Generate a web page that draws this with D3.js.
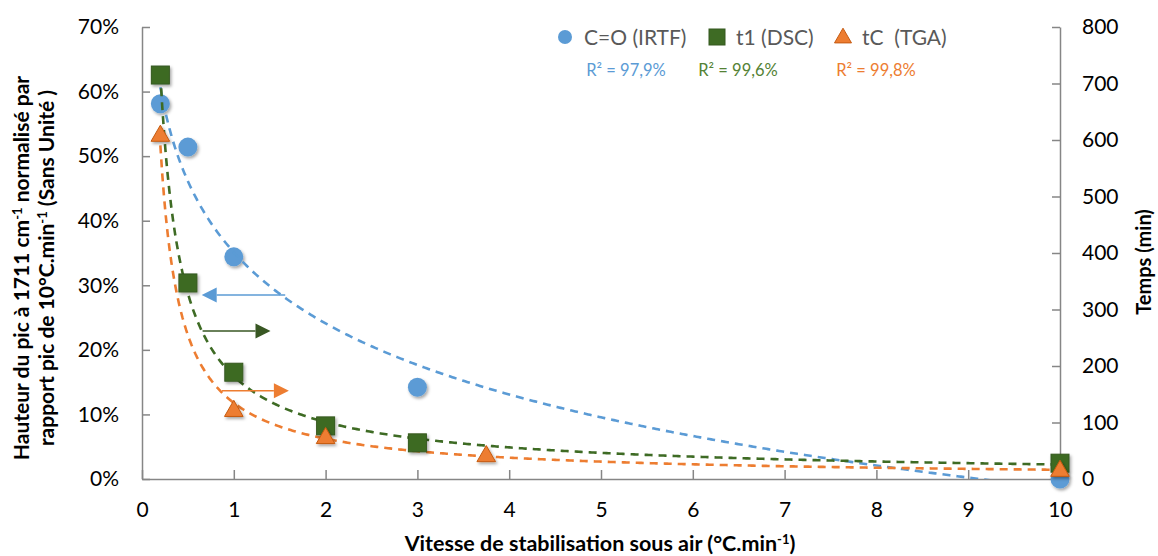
<!DOCTYPE html>
<meta charset="utf-8">
<script src="https://d3js.org/d3.v7.min.js"></script>
<style>
  body { margin: 0; background: #fff; }
  text { font-family: Lato, "Open Sans", sans-serif; }
</style>
<div id="chart"></div>
<script>
// ---- data ----
var xTicks = [0, 1, 2, 3, 4, 5, 6, 7, 8, 9, 10];
var leftTicks = [0, 0.1, 0.2, 0.3, 0.4, 0.5, 0.6, 0.7];
var rightTicks = [0, 100, 200, 300, 400, 500, 600, 700, 800];

// C=O (IRTF), left axis (fraction)
var irtfX = [0.2, 0.5, 1, 3, 10];
var irtfY = [0.581, 0.514, 0.344, 0.142, 0.0];
// t1 (DSC), right axis (min)
var dscX = [0.2, 0.5, 1, 2, 3, 10];
var dscY = [715, 347, 189, 94, 64, 28];
// tC (TGA), right axis (min)
var tgaX = [0.2, 1, 2, 3.75, 10];
var tgaY = [609, 122, 74, 42, 16];

var legendNames = ["C=O (IRTF)", "t1 (DSC)", "tC\u00a0 (TGA)"];
var r2Labels = ["R\u00b2 = 97,9%", "R\u00b2 = 99,6%", "R\u00b2 = 99,8%"];

// arrows telling which axis each series uses: [x0, x1, value, axis]
var arrows = [
  {x0: 1.56, x1: 0.65, v: 0.285, axis: "left", color: "#5b9bd5"},
  {x0: 0.66, x1: 1.40, v: 262, axis: "right", color: "#385723"},
  {x0: 0.87, x1: 1.60, v: 156, axis: "right", color: "#ed7d31"}
];

var blue = "#5b9bd5", green = "#3e6b24", orange = "#ed7d31";

// ---- layout ----
var W = 1158, H = 556;
var margin = {left: 142, right: 98, top: 27, bottom: 77};
var width = W - margin.left - margin.right,
    height = H - margin.top - margin.bottom;

var svg = d3.select("#chart").append("svg")
  .attr("width", W).attr("height", H);

var defs = svg.append("defs");
var f = defs.append("filter").attr("id", "shadow")
  .attr("x", "-50%").attr("y", "-50%").attr("width", "200%").attr("height", "200%");
f.append("feDropShadow").attr("dx", 1.5).attr("dy", 2).attr("stdDeviation", 1.8)
  .attr("flood-color", "#000").attr("flood-opacity", 0.35);
defs.append("clipPath").attr("id", "plotclip").append("rect")
  .attr("x", 0).attr("y", -5).attr("width", width + 2).attr("height", height + 5);

var g = svg.append("g").attr("transform", "translate(" + margin.left + "," + margin.top + ")");

var x = d3.scaleLinear().domain([0, 10]).range([0, width]);
var yL = d3.scaleLinear().domain([0, 0.7]).range([height, 0]);
var yR = d3.scaleLinear().domain([0, 800]).range([height, 0]);

var axisColor = "#868686";

function styleAxis(sel) {
  sel.select(".domain").attr("stroke", axisColor).attr("stroke-width", 1.5);
  sel.selectAll(".tick line").attr("stroke", axisColor).attr("stroke-width", 1.5);
  sel.selectAll(".tick text").attr("fill", "#000").style("font-size", "21px");
}

g.append("g").attr("transform", "translate(0," + height + ")")
  .call(d3.axisBottom(x).tickValues(xTicks).tickSize(-9).tickSizeOuter(0).tickPadding(23))
  .call(styleAxis);
g.append("g")
  .call(d3.axisLeft(yL).tickValues(leftTicks).tickFormat(d3.format(".0%")).tickSize(-8).tickSizeOuter(0).tickPadding(23))
  .call(styleAxis);
g.append("g").attr("transform", "translate(" + width + ",0)")
  .call(d3.axisRight(yR).tickValues(rightTicks).tickSize(-8).tickSizeOuter(0).tickPadding(22))
  .call(styleAxis);

// ---- trendlines (regressions computed from the points) ----
function logFit(xs, ys) {
  var lx = xs.map(Math.log);
  var mx = d3.mean(lx), my = d3.mean(ys);
  var sxy = d3.sum(lx, (v, i) => (v - mx) * (ys[i] - my));
  var sxx = d3.sum(lx, v => (v - mx) * (v - mx));
  var b = sxy / sxx, a = my - b * mx;
  return t => a + b * Math.log(t);
}
function powFit(xs, ys) {
  var lx = xs.map(Math.log), ly = ys.map(Math.log);
  var mx = d3.mean(lx), my = d3.mean(ly);
  var sxy = d3.sum(lx, (v, i) => (v - mx) * (ly[i] - my));
  var sxx = d3.sum(lx, v => (v - mx) * (v - mx));
  var b = sxy / sxx, a = Math.exp(my - b * mx);
  return t => a * Math.pow(t, b);
}

var xs = d3.range(0.2, 10.0001, 0.02);
var trends = [
  {fn: logFit(irtfX, irtfY), y: yL, color: blue},
  {fn: powFit(dscX, dscY), y: yR, color: green},
  {fn: powFit(tgaX, tgaY), y: yR, color: orange}
];

// blue markers sit under the trendlines
g.append("g").selectAll("circle").data(irtfX).enter().append("circle")
  .attr("cx", d => x(d)).attr("cy", (d, i) => yL(irtfY[i]))
  .attr("r", 9.5).attr("fill", blue).attr("filter", "url(#shadow)");

trends.forEach(function(t) {
  g.append("path")
    .datum(xs)
    .attr("clip-path", "url(#plotclip)")
    .attr("fill", "none")
    .attr("stroke", t.color)
    .attr("stroke-width", 2.6)
    .attr("stroke-dasharray", "8,6")
    .attr("d", d3.line().x(d => x(d)).y(d => t.y(t.fn(d))));
});

// green squares
g.append("g").selectAll("rect").data(dscX).enter().append("rect")
  .attr("x", d => x(d) - 9).attr("y", (d, i) => yR(dscY[i]) - 9)
  .attr("width", 18).attr("height", 18)
  .attr("fill", green).attr("stroke", "#35591f").attr("stroke-width", 1)
  .attr("filter", "url(#shadow)");

// orange triangles
var tri = d3.symbol().type(d3.symbolTriangle).size(150);
g.append("g").selectAll("path").data(tgaX).enter().append("path")
  .attr("d", tri)
  .attr("transform", (d, i) => "translate(" + x(d) + "," + (yR(tgaY[i]) + 1) + ")")
  .attr("fill", orange).attr("stroke", "#c55a11").attr("stroke-width", 1)
  .attr("filter", "url(#shadow)");

// ---- arrows ----
arrows.forEach(function(a) {
  var yy = a.axis === "left" ? yL(a.v) : yR(a.v);
  var x0 = x(a.x0), x1 = x(a.x1);
  var dir = x1 > x0 ? 1 : -1, head = 15;
  g.append("line").attr("x1", x0).attr("x2", x1 - dir * head).attr("y1", yy).attr("y2", yy)
    .attr("stroke", a.color).attr("stroke-width", 1.5);
  g.append("path")
    .attr("d", "M" + x1 + "," + yy + "L" + (x1 - dir * head) + "," + (yy - 7.5) + "L" + (x1 - dir * head) + "," + (yy + 7.5) + "Z")
    .attr("fill", a.color);
});

// ---- legend ----
var legX = [565, 717, 843];
var legendY = 37;
svg.append("circle").attr("cx", legX[0]).attr("cy", legendY).attr("r", 7).attr("fill", blue);
svg.append("rect").attr("x", legX[1] - 8).attr("y", legendY - 8).attr("width", 16).attr("height", 16)
  .attr("fill", green).attr("stroke", "#35591f");
svg.append("path").attr("d", d3.symbol().type(d3.symbolTriangle).size(125))
  .attr("transform", "translate(" + legX[2] + "," + (legendY + 1) + ")")
  .attr("fill", orange).attr("stroke", "#c55a11");
legendNames.forEach(function(n, i) {
  svg.append("text").attr("x", legX[i] + 19).attr("y", legendY + 7.5)
    .style("font-size", "21px").attr("fill", "#595959").text(n);
});
var r2X = [626, 738, 876];
var r2Col = ["#5b9bd5", "#548235", "#ed7d31"];
r2Labels.forEach(function(n, i) {
  svg.append("text").attr("x", r2X[i]).attr("y", 76).attr("text-anchor", "middle")
    .style("font-size", "16.5px").attr("fill", r2Col[i]).text(n);
});

// ---- axis titles ----
var xt = svg.append("text").attr("x", 600).attr("y", 551).attr("text-anchor", "middle")
  .style("font-size", "21.5px").style("font-weight", "bold");
xt.append("tspan").text("Vitesse de stabilisation sous air (°C.min");
xt.append("tspan").attr("dy", -7).style("font-size", "13px").text("-1");
xt.append("tspan").attr("dy", 7).text(")");

var yt = svg.append("text").attr("transform", "translate(29,268) rotate(-90)")
  .attr("text-anchor", "middle").style("font-size", "21px").style("font-weight", "bold");
yt.append("tspan").text("Hauteur du pic à 1711 cm");
yt.append("tspan").attr("dy", -7).style("font-size", "13px").text("-1");
yt.append("tspan").attr("dy", 7).text(" normalisé par");

var yt2 = svg.append("text").attr("transform", "translate(54,268) rotate(-90)")
  .attr("text-anchor", "middle").style("font-size", "21px").style("font-weight", "bold");
yt2.append("tspan").text("rapport pic de 10°C.min");
yt2.append("tspan").attr("dy", -7).style("font-size", "13px").text("-1");
yt2.append("tspan").attr("dy", 7).text(" (Sans Unité )");

svg.append("text").attr("transform", "translate(1151,262) rotate(-90)")
  .attr("text-anchor", "middle").style("font-size", "20px").style("font-weight", "bold")
  .text("Temps (min)");
</script>
